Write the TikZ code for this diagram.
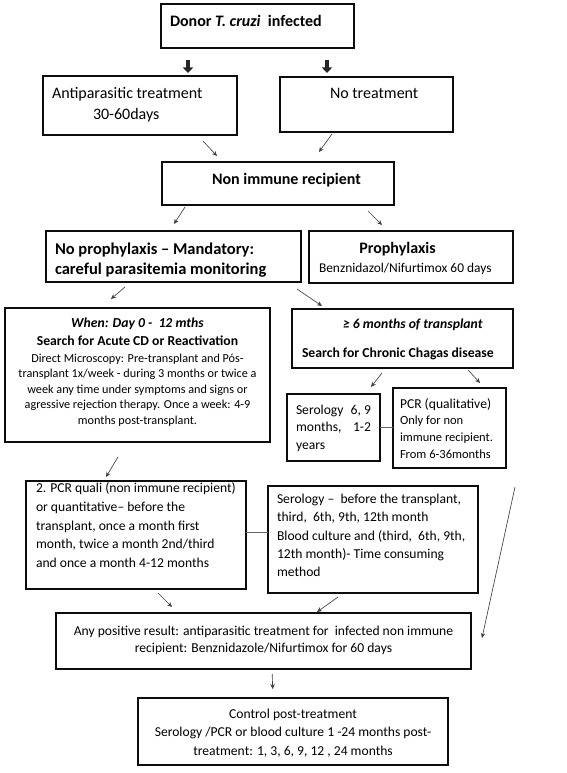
\documentclass[tikz,border=0pt]{standalone}
\usepackage{fontspec}
\setmainfont{Carlito}
\usetikzlibrary{arrows.meta}
\newcommand\fs[2]{\fontsize{#1}{#2}\selectfont}
\newcommand\tlines[2]{\begin{tabular}[t]{@{}#1@{}}#2\end{tabular}}
\begin{document}
\begin{tikzpicture}[x=1pt,y=-1pt,
  box/.style={draw=black!95, line width=1.15pt, inner sep=0pt, outer sep=0pt},
  txt/.style={inner sep=0pt, outer sep=0pt, text=black},
  arr/.style={-{Stealth[length=5pt,width=4.5pt]}, line width=0.65pt, draw=black!75},
  fat/.style={-{Triangle[length=5.5pt,width=10pt]}, line width=3.5pt, draw=black!85},
  link/.style={line width=0.65pt, draw=black!60}]
\useasboundingbox[fill=white] (0,0) rectangle (567,773);

% boxes
\node[box, minimum width=193pt, minimum height=44pt] (donor) at (257.5,26) {};
\node[box, minimum width=194pt, minimum height=59pt] (anti) at (140,105.5) {};
\node[box, minimum width=173pt, minimum height=55pt] (notreat) at (366.5,104.5) {};
\node[box, minimum width=232pt, minimum height=43pt] (nir) at (278,183.5) {};
\node[box, minimum width=255pt, minimum height=51pt] (noproph) at (173.5,256.5) {};
\node[box, minimum width=204pt, minimum height=52pt] (proph) at (411,257) {};
\node[box, minimum width=265pt, minimum height=134pt] (when) at (137.5,375) {};
\node[box, minimum width=221pt, minimum height=59pt] (six) at (402.5,338.5) {};
\node[box, minimum width=93pt, minimum height=67pt] (serol) at (333.5,427.5) {};
\node[box, minimum width=113pt, minimum height=80pt] (pcr) at (449.5,428) {};
\node[box, minimum width=220pt, minimum height=108pt] (pcrq) at (136,535) {};
\node[box, minimum width=210pt, minimum height=107pt] (serbig) at (373,539.5) {};
\node[box, minimum width=415pt, minimum height=56pt] (any) at (263.5,641) {};
\node[box, minimum width=310pt, minimum height=67pt] (ctrl) at (293,731.5) {};

% texts
\node[txt, anchor=base west] (donor-t) at (170,27) {\fs{16}{20}\bfseries Donor \textit{T. cruzi}\ \ infected};
\node[txt, anchor=base west] (anti-t) at (52,98.5) {\fs{16}{21}\tlines{l}{Antiparasitic treatment\\\hspace*{41pt}30-60days}};
\node[txt, anchor=base west] (notreat-t) at (330,98.5) {\fs{16}{20}No treatment};
\node[txt, anchor=base west] (nir-t) at (212,184) {\fs{16}{20}\bfseries Non immune recipient};
\node[txt, anchor=base west] (noproph-t) at (55,254) {\fs{16.5}{20.3}\bfseries\tlines{l}{No prophylaxis -- Mandatory:\\careful parasitemia monitoring}};
\node[txt, anchor=base] (proph-t1) at (397.5,253.5) {\fs{16}{20}\bfseries Prophylaxis};
\node[txt, anchor=base west] (proph-t2) at (319,272) {\fs{13.4}{16}Benznidazol/Nifurtimox 60 days};
\node[txt, anchor=base] (when-t1) at (137.5,327) {\fs{13.7}{18}\bfseries\tlines{c}{\itshape When: Day 0 -\ \ 12 mths\\Search for Acute CD or Reactivation}};
\node[txt, anchor=base] (when-t2) at (137.5,362) {\fs{12.2}{15.5}\tlines{c}{Direct Microscopy: Pre-transplant and Pós-\\transplant 1x/week - during 3 months or twice a\\week any time under symptoms and signs or\\agressive rejection therapy. Once a week: 4-9\\months post-transplant.}};
\node[txt, anchor=base west] (six-t1) at (343,328) {\fs{13.7}{17}\bfseries\itshape ≥ 6 months of transplant};
\node[txt, anchor=base west] (six-t2) at (302,357) {\fs{13.7}{17}\bfseries Search for Chronic Chagas disease};
\node[txt, anchor=base west] (serol-t) at (296,414) {\fs{13.6}{17.5}\tlines{l}{\hbox to 75pt{Serology\hfill 6, 9}\\\hbox to 75pt{months,\hfill 1-2}\\years}};
\node[txt, anchor=base west] (pcr-t) at (400,408) {\fs{12.5}{16.7}\tlines{l}{{\fs{13.6}{16.7}PCR (qualitative)}\\Only for non\\immune recipient.\\From 6-36months}};
\node[txt, anchor=base west] (pcrq-t) at (36,492.5) {\fs{13.6}{18.8}\tlines{l}{2. PCR quali (non immune recipient)\\or quantitative-- before the\\transplant, once a month first\\month, twice a month 2nd/third\\and once a month 4-12 months}};
\node[txt, anchor=base west] (serbig-t) at (277,503.3) {\fs{13.6}{18.4}\tlines{l}{Serology --\ \ before the transplant,\\third,\ \ 6th, 9th, 12th month\\Blood culture and (third,\ \ 6th, 9th,\\12th month)- Time consuming\\method}};
\node[txt, anchor=base] (any-t) at (263.5,635) {\fs{13.6}{17.5}\tlines{c}{Any positive result: antiparasitic treatment for\ \ infected non immune\\recipient: Benznidazole/Nifurtimox for 60 days}};
\node[txt, anchor=base] (ctrl-t) at (293,718) {\fs{13.6}{18.5}\tlines{c}{Control post-treatment\\Serology /PCR or blood culture 1 -24 months post-\\treatment: 1, 3, 6, 9, 12 , 24 months}};

% fat arrows
\draw[fat, shorten <=12pt, shorten >=3pt] ([xshift=27pt]donor.south west) -- ([xshift=145pt]anti.north west);
\draw[fat, shorten <=12pt, shorten >=4pt] ([xshift=166pt]donor.south west) -- ([xshift=47pt]notreat.north west);

% thin arrows
\draw[arr, shorten <=8.2pt, shorten >=8.2pt] ([xshift=154.4pt]anti.south west) -- ([xshift=60.6pt]nir.north west);
\draw[arr, shorten <=2.5pt, shorten >=12.3pt] ([xshift=53.4pt]notreat.south west) -- ([xshift=149.8pt]nir.north west);
\draw[arr, shorten <=2.4pt, shorten >=8.3pt] ([xshift=24.3pt]nir.south west) -- ([xshift=123.5pt]noproph.north west);
\draw[arr, shorten <=8.5pt, shorten >=8.5pt] ([xshift=200pt]nir.south west) -- ([xshift=79pt]proph.north west);
\draw[arr, shorten <=7.7pt, shorten >=13.8pt] ([xshift=84.8pt]noproph.south west) -- ([xshift=95.5pt]when.north west);
\draw[arr, shorten <=12.4pt, shorten >=5.3pt] ([xshift=240.7pt]noproph.south west) -- ([xshift=34.4pt]six.north west);
\draw[arr, shorten <=6.4pt, shorten >=8.9pt] ([xshift=93.9pt]six.south west) -- ([xshift=78.5pt]serol.north west);
\draw[arr, shorten <=2.7pt, shorten >=6.8pt] ([xshift=174.2pt]six.south west) -- ([xshift=91.6pt]pcr.north west);
\draw[arr, shorten <=17.5pt, shorten >=4.7pt] ([xshift=122pt]when.south west) -- ([xshift=77.6pt]pcrq.north west);
\draw[arr, shorten <=5.7pt, shorten >=8.5pt] ([xshift=128pt]pcrq.south west) -- ([xshift=122pt]any.north west);
\draw[arr, shorten <=6.9pt, shorten >=1.7pt] ([xshift=75.6pt]serbig.south west) -- ([xshift=259.6pt]any.north west);
\draw[arr, shorten <=5pt, shorten >=9pt] ([xshift=216pt]any.south west) -- ([xshift=135pt]ctrl.north west);
\coordinate (lstart) at (515,487);
\coordinate (lend) at (482,638);
\draw[arr] (lstart) -- (lend);

% plain links
\draw[link] (serol.east) -- (serol.east -| pcr.west);
\draw[link] ([yshift=3pt]pcrq.east) -- ([yshift=3pt]pcrq.east -| serbig.west);
\end{tikzpicture}
\end{document}
